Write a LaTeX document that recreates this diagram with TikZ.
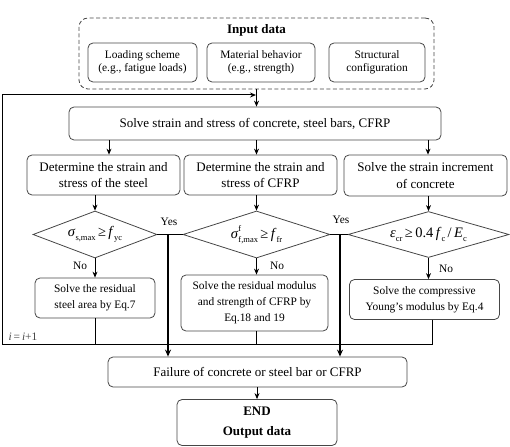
\documentclass[tikz,border=0pt]{standalone}
\usepackage{fontspec}
\setmainfont{Liberation Serif}
\usetikzlibrary{arrows.meta,shapes.geometric}
\definecolor{boxgray}{RGB}{70,70,70}
\newcommand{\lowtxt}[1]{\raisebox{-0.55ex}{\fontsize{8.5}{9}\selectfont #1}}
\newcommand{\hightxt}[1]{\raisebox{1.15ex}{\fontsize{8.5}{9}\selectfont #1}}
\begin{document}
\begin{tikzpicture}[x=1pt,y=-1pt,
  box/.style={draw=boxgray, line width=0.8pt, rounded corners=5pt, align=center, inner sep=0pt, font=\fontsize{13}{16.5}\selectfont},
  sbox/.style={box, font=\fontsize{11.4}{13.3}\selectfont},
  rbox/.style={box, font=\fontsize{11.4}{16}\selectfont},
  bbox/.style={box, font=\bfseries\fontsize{13}{20.7}\selectfont},
  dia/.style={draw=boxgray, line width=0.8pt, diamond, inner sep=0pt, aspect=3, font=\fontsize{14.5}{16}\selectfont},
  arr/.style={line width=0.8pt, -{Stealth[length=6pt,width=5pt]}},
  tarr/.style={line width=1.8pt, -{Stealth[length=7pt,width=6pt]}},
  loopl/.style={line width=1pt, -{Stealth[length=6pt,width=5pt]}},
  lbl/.style={font=\fontsize{11.4}{13}\selectfont, inner sep=0pt},
]
\useasboundingbox (0,0) rectangle (510,446);

% input block
\node[draw=boxgray, dashed, dash pattern=on 4pt off 2.5pt, rounded corners=9pt, line width=0.8pt,
      minimum width=355pt, minimum height=71pt] (input) at (256.5,53.5) {};
\node[font=\bfseries\fontsize{13}{15}\selectfont, inner sep=0pt] (intitle) at (256.5,30) {Input data};
\node[sbox, minimum width=109pt, minimum height=39pt] (load) at (142.5,62.5) {Loading scheme\\(e.g., fatigue loads)};
\node[sbox, minimum width=108pt, minimum height=39pt] (mat) at (261,62.5) {Material behavior\\(e.g., strength)};
\node[sbox, minimum width=96pt, minimum height=39pt] (struct) at (377,62.5) {Structural\\configuration};

% main solve
\node[box, minimum width=372pt, minimum height=33pt] (solve) at (255,123.5) {Solve strain and stress of concrete, steel bars, CFRP};

% determine boxes
\node[box, minimum width=153pt, minimum height=40pt] (detS) at (103.5,175) {Determine the strain and\\stress of the steel};
\node[box, minimum width=153pt, minimum height=40pt] (detF) at (260.5,175) {Determine the strain and\\stress of CFRP};
\node[box, minimum width=163pt, minimum height=41pt] (detC) at (425.5,175.5) {Solve the strain increment\\of concrete};

% diamonds
\node[dia, minimum width=124pt, minimum height=47pt] (diaS) at (95,234.5)
  {\textit{σ}\lowtxt{s,max}\,≥\,\textit{f}\lowtxt{yc}};
\node[dia, minimum width=147pt, minimum height=47pt] (diaF) at (256.5,234.5)
  {\textit{σ}\rlap{\hightxt{f}}\lowtxt{f,max}\,≥\,\textit{f}\lowtxt{fr}};
\node[dia, minimum width=161pt, minimum height=46pt] (diaC) at (428.5,234.5)
  {\textit{ε}\lowtxt{cr}\,≥\,0.4\,\textit{f}\lowtxt{c}\,/\,\textit{E}\lowtxt{c}};

% residual boxes
\node[rbox, minimum width=120pt, minimum height=40pt] (resS) at (95,298) {Solve the residual\\steel area by Eq.7};
\node[rbox, minimum width=147pt, minimum height=56pt] (resF) at (254.5,303) {Solve the residual modulus\\and strength of CFRP by\\Eq.18 and 19};
\node[rbox, minimum width=150pt, minimum height=40pt] (resC) at (424.5,299.5) {Solve the compressive\\Young's modulus by Eq.4};

% failure and end
\node[box, minimum width=299pt, minimum height=30pt] (fail) at (257.5,372) {Failure of concrete or steel bar or CFRP};
\node[bbox, minimum width=160pt, minimum height=46pt] (end) at (257,422.5) {END\\Output data};

% coordinates
\coordinate (lb) at (2,344);
\coordinate (lt) at (2,95);
\coordinate (rc) at (432,344);
\coordinate (y1) at (168,234.5);
\coordinate (y2) at (340,234.5);

% input -> solve
\draw[arr] (input.south) -- (input.south |- solve.north);
% loop back
\draw[loopl] (rc |- resC.south) -- (rc) -- (lb) -- (lt) -- ([xshift=-0.5pt]input.south |- lt);
\draw[line width=1pt] (resS.south) -- (resS.south |- lb);
\draw[line width=1pt] (diaF.south |- resF.south) -- (diaF.south |- lb);

% solve -> determine
\draw[arr] ([xshift=5.5pt]detS.north |- solve.south) -- ([xshift=5.5pt]detS.north);
\draw[arr] (input.south |- solve.south) -- (input.south |- detF.north);
\draw[arr] ([xshift=2.5pt]detC.north |- solve.south) -- ([xshift=2.5pt]detC.north);

% determine -> diamonds
\draw[arr] (diaS.north |- detS.south) -- (diaS.north);
\draw[arr] (diaF.north |- detF.south) -- (diaF.north);
\draw[arr] (diaC.north |- detC.south) -- (diaC.north);

% diamonds -> residual (No)
\draw[arr] (diaS.south) -- (diaS.south |- resS.north);
\draw[arr] (diaF.south) -- (diaF.south |- resF.north);
\draw[arr] (diaC.south) -- (diaC.south |- resC.north);

% Yes branches
\draw[line width=0.8pt] (diaS.east) -- (diaF.west);
\draw[line width=0.8pt] (diaF.east) -- (diaC.west);
\draw[tarr] (y1) -- (y1 |- fail.north);
\draw[tarr] (y2) -- (y2 |- fail.north);

% fail -> end
\draw[arr] (end.north |- fail.south) -- (end.north);

% labels
\node[lbl] (yes1) at (169,222) {Yes};
\node[lbl] (yes2) at (341,220) {Yes};
\node[lbl] (no1) at (80,266) {No};
\node[lbl] (no2) at (277,266) {No};
\node[lbl] (no3) at (446,269) {No};
\node[lbl, text=boxgray] (iter) at (23,337) {\textit{i}\,=\,\textit{i}+1};
\end{tikzpicture}
\end{document}
